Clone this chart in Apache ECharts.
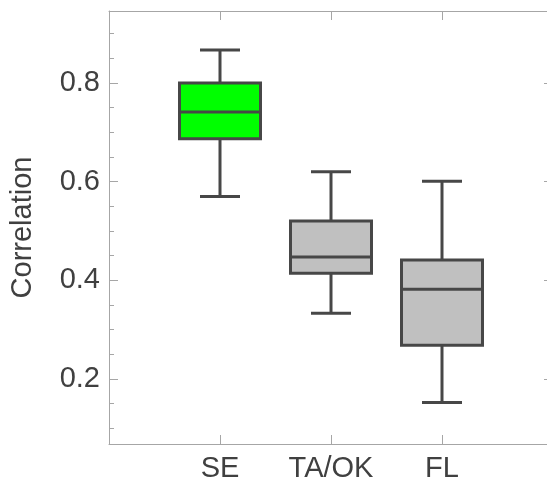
<!DOCTYPE html>
<html>
<head>
<meta charset="utf-8">
<script src="https://cdn.jsdelivr.net/npm/echarts@6/dist/echarts.min.js"></script>
<style>html,body{margin:0;padding:0;background:#fff}#c{width:547px;height:482px}</style>
</head>
<body>
<div id="c"></div>
<script>
// Data
const categories = ['SE', 'TA/OK', 'FL'];
const whiskerLow  = [0.570, 0.333, 0.152];
const quartile1   = [0.687, 0.414, 0.268];
const medians     = [0.741, 0.447, 0.382];
const quartile3   = [0.800, 0.520, 0.441];
const whiskerHigh = [0.867, 0.620, 0.601];
const yTickLabels = ['0.2', '0.4', '0.6', '0.8'];

// Styles (kept apart from data)
const boxFill = ['#00ff00', '#c0c0c0', '#c0c0c0'];
const edge = '#474747';
const axisGray = '#a6a6a6';
const textGray = '#404040';
const font = 'Liberation Sans, Arial, sans-serif';
const fs = 29;

const axisCats = [''].concat(categories, ['']);
const seriesData = categories.map((c, i) => [c, whiskerLow[i], quartile1[i], medians[i], quartile3[i], whiskerHigh[i]]);

const yMin = 0.068, yMax = 0.946;

function yAxisDef(pos, major, showLine, withLabels) {
  return {
    type: 'value', position: pos, min: yMin, max: yMax,
    splitNumber: major ? 4 : 18,
    minInterval: major ? 0.2 : 0.05, maxInterval: major ? 0.2 : 0.05,
    axisLine: { show: showLine, lineStyle: { color: axisGray, width: 1 } },
    axisTick: { show: true, inside: true, length: major ? 9 : 5, lineStyle: { color: axisGray, width: 1 } },
    axisLabel: withLabels ? {
      show: true, margin: 9, color: textGray, fontSize: fs, fontFamily: font,
      showMinLabel: false, showMaxLabel: false,
      formatter: v => { const s = v.toFixed(1); return yTickLabels.indexOf(s) >= 0 && Math.abs(v - parseFloat(s)) < 1e-6 ? s : ''; }
    } : { show: false },
    splitLine: { show: false },
    name: withLabels ? 'Correlation' : '',
    nameLocation: 'middle', nameGap: 72,
    nameTextStyle: { color: textGray, fontSize: fs, fontFamily: font }
  };
}

const chart = echarts.init(document.getElementById('c'), null, { renderer: 'canvas' });
chart.setOption({
  animation: false,
  backgroundColor: '#fff',
  grid: { left: 109, top: 11, width: 444, height: 433, containLabel: false, outerBoundsMode: 'none' },
  xAxis: [
    {
      type: 'category', data: axisCats, boundaryGap: false, position: 'bottom',
      axisLine: { lineStyle: { color: axisGray, width: 1 } },
      axisTick: { inside: true, length: 9, alignWithLabel: true, lineStyle: { color: axisGray } },
      axisLabel: { color: textGray, fontSize: fs, fontFamily: font, margin: 10, interval: 0 },
      splitLine: { show: false }
    },
    {
      type: 'category', data: axisCats, boundaryGap: false, position: 'top',
      axisLine: { lineStyle: { color: axisGray, width: 1 } },
      axisTick: { inside: true, length: 9, lineStyle: { color: axisGray } },
      axisLabel: { show: false },
      splitLine: { show: false }
    }
  ],
  yAxis: [
    yAxisDef('left', true, true, true),
    yAxisDef('left', false, false, false),
    yAxisDef('right', true, true, false),
    yAxisDef('right', false, false, false)
  ],
  series: [{
    type: 'custom',
    xAxisIndex: 0, yAxisIndex: 0,
    encode: { x: 0, y: [1, 2, 3, 4, 5] },
    data: seriesData,
    renderItem: function (params, api) {
      const x = api.value(0);
      const lo = api.coord([x, api.value(1)]);
      const q1 = api.coord([x, api.value(2)]);
      const md = api.coord([x, api.value(3)]);
      const q3 = api.coord([x, api.value(4)]);
      const hi = api.coord([x, api.value(5)]);
      const cx = lo[0];
      const bw = 81, cw = 40;
      const ls = { stroke: edge, lineWidth: 3 };
      return {
        type: 'group',
        children: [
          { type: 'line', shape: { x1: cx, y1: hi[1], x2: cx, y2: q3[1] }, style: ls },
          { type: 'line', shape: { x1: cx, y1: q1[1], x2: cx, y2: lo[1] }, style: ls },
          { type: 'line', shape: { x1: cx - cw / 2, y1: hi[1], x2: cx + cw / 2, y2: hi[1] }, style: ls },
          { type: 'line', shape: { x1: cx - cw / 2, y1: lo[1], x2: cx + cw / 2, y2: lo[1] }, style: ls },
          { type: 'rect', shape: { x: cx - bw / 2, y: q3[1], width: bw, height: q1[1] - q3[1] },
            style: { fill: boxFill[params.dataIndex], stroke: edge, lineWidth: 3 } },
          { type: 'line', shape: { x1: cx - bw / 2, y1: md[1], x2: cx + bw / 2, y2: md[1] }, style: ls }
        ]
      };
    }
  }]
});
</script>
</body>
</html>
